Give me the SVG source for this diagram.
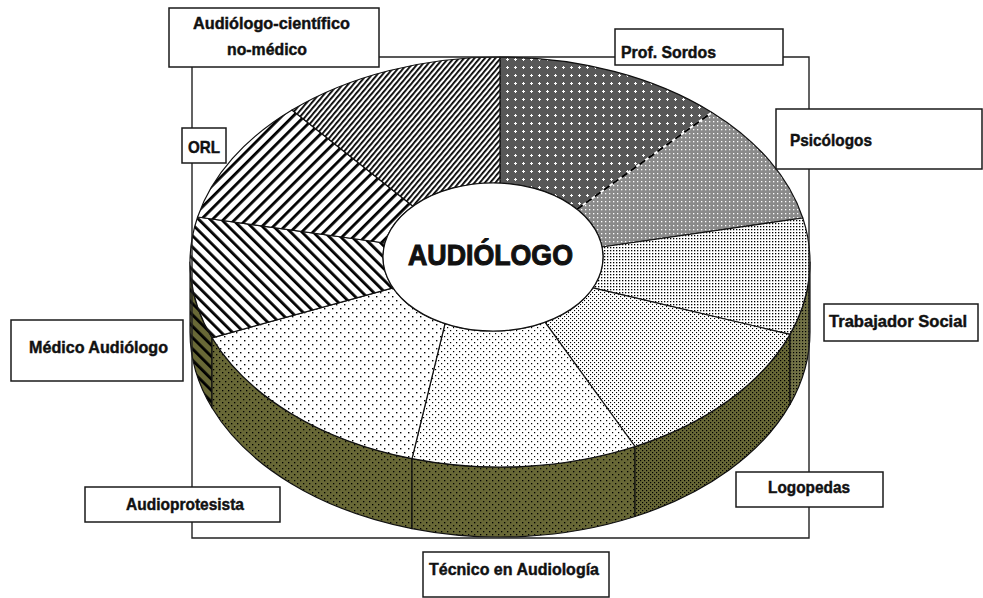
<svg xmlns="http://www.w3.org/2000/svg" width="983" height="598" viewBox="0 0 983 598">
<style>
.box{fill:#fff;stroke:#1a1a1a;stroke-width:1.5}
.lbl{font-family:"Liberation Sans Narrow","Liberation Sans",Arial,sans-serif;font-weight:bold;font-size:17px;fill:#111;stroke:#111;stroke-width:0.45}
.big{font-size:30px;stroke-width:1.1}
.seg{stroke:#111;stroke-width:1.2;stroke-linejoin:round}
.side{stroke:#111;stroke-width:1.2;stroke-linejoin:round}
.conn{fill:none;stroke:#222;stroke-width:1.4}
</style>
<defs>
<pattern id="pFine" patternUnits="userSpaceOnUse" width="4" height="4" patternTransform="rotate(40)">
<rect width="4" height="4" fill="#fff"/><rect width="1.8" height="4" fill="#000"/>
</pattern>
<pattern id="pFwd" patternUnits="userSpaceOnUse" width="8" height="8" patternTransform="rotate(45)">
<rect width="8" height="8" fill="#fff"/><rect width="2.8" height="8" fill="#000"/>
</pattern>
<pattern id="pBack" patternUnits="userSpaceOnUse" width="8" height="8" patternTransform="rotate(-45)">
<rect width="8" height="8" fill="#fff"/><rect width="2.8" height="8" fill="#000"/>
</pattern>
<pattern id="pSordos" patternUnits="userSpaceOnUse" width="8" height="8">
<rect width="8" height="8" fill="#585858"/>
<rect x="3" y="2" width="1" height="3" fill="#fff"/><rect x="2" y="3" width="3" height="1" fill="#fff"/>
</pattern>
<pattern id="pPsico" patternUnits="userSpaceOnUse" width="4" height="4">
<rect width="4" height="4" fill="#8a8a8a"/>
<rect x="1" y="1" width="1.3" height="1.3" fill="#fff"/>
</pattern>
<pattern id="pTS" patternUnits="userSpaceOnUse" width="3" height="3">
<rect width="3" height="3" fill="#fff"/><rect x="1" y="1" width="1.3" height="1.3" fill="#000"/>
</pattern>
<pattern id="pLogo" patternUnits="userSpaceOnUse" width="4" height="4">
<rect width="4" height="4" fill="#fff"/><rect x="0" y="0" width="1.1" height="1.1" fill="#000"/><rect x="2" y="2" width="1.1" height="1.1" fill="#000"/>
</pattern>
<pattern id="pTec" patternUnits="userSpaceOnUse" width="6" height="6">
<rect width="6" height="6" fill="#fff"/><rect x="0" y="0" width="1.2" height="1.2" fill="#000"/><rect x="3" y="3" width="1.2" height="1.2" fill="#000"/>
</pattern>
<pattern id="pAudiop" patternUnits="userSpaceOnUse" width="8" height="8">
<rect width="8" height="8" fill="#fff"/><rect x="0" y="0" width="1.4" height="1.4" fill="#000"/><rect x="4" y="4" width="1.4" height="1.4" fill="#000"/>
</pattern>
<pattern id="sDots6" patternUnits="userSpaceOnUse" width="6" height="6">
<rect width="6" height="6" fill="#686836"/><rect x="0" y="0" width="1.3" height="1.3" fill="#000"/><rect x="3" y="3" width="1.3" height="1.3" fill="#000"/>
</pattern>
<pattern id="sDots4" patternUnits="userSpaceOnUse" width="4" height="4">
<rect width="4" height="4" fill="#686836"/><rect x="0" y="0" width="1.2" height="1.2" fill="#000"/><rect x="2" y="2" width="1.2" height="1.2" fill="#000"/>
</pattern>
<pattern id="sDots3" patternUnits="userSpaceOnUse" width="3" height="3">
<rect width="3" height="3" fill="#727246"/><rect x="1" y="1" width="1.2" height="1.2" fill="#000"/>
</pattern>
<pattern id="sStripe" patternUnits="userSpaceOnUse" width="8" height="8" patternTransform="rotate(-45)">
<rect width="8" height="8" fill="#686836"/><rect width="2.8" height="8" fill="#000"/>
</pattern>
</defs>

<rect width="983" height="598" fill="#fff"/>

<g id="pie">
<path class="side" fill="url(#sStripe)" d="M190,262 A310,205 0 0 0 212,337.8 L212,407.8 A310,205 0 0 1 190,332 Z"/>
<path class="side" fill="url(#sDots6)" d="M212,337.8 A310,205 0 0 0 412,458.6 L412,528.6 A310,205 0 0 1 212,407.8 Z"/>
<path class="side" fill="url(#sDots6)" d="M412,458.6 A310,205 0 0 0 635,446.5 L635,516.5 A310,205 0 0 1 412,528.6 Z"/>
<path class="side" fill="url(#sDots4)" d="M635,446.5 A310,205 0 0 0 790,334.4 L790,404.4 A310,205 0 0 1 635,516.5 Z"/>
<path class="side" fill="url(#sDots3)" d="M790,334.4 A310,205 0 0 0 810,262 L810,332 A310,205 0 0 1 790,404.4 Z"/>
<path id="seg-prof-sordos" class="seg" fill="url(#pSordos)" d="M500,57 A310,205 0 0 1 712,112.4 L577,209.2 A110,74 0 0 0 500,183.2 Z"/>
<path id="seg-psicologos" class="seg" fill="url(#pPsico)" d="M712,112.4 A310,205 0 0 1 802.8,218 L602,247 A110,74 0 0 0 577,209.2 Z"/>
<path id="seg-trabajador" class="seg" fill="url(#pTS)" d="M802.8,218 A310,205 0 0 1 790,334.4 L593,287.8 A110,74 0 0 0 602,247 Z"/>
<path id="seg-logopedas" class="seg" fill="url(#pLogo)" d="M790,334.4 A310,205 0 0 1 635,446.5 L545,322.2 A110,74 0 0 0 593,287.8 Z"/>
<path id="seg-tecnico" class="seg" fill="url(#pTec)" d="M635,446.5 A310,205 0 0 1 412,458.6 L445,323.6 A110,74 0 0 0 545,322.2 Z"/>
<path id="seg-audioprotesista" class="seg" fill="url(#pAudiop)" d="M412,458.6 A310,205 0 0 1 212,337.8 L393,287.8 A110,74 0 0 0 445,323.6 Z"/>
<path id="seg-medico" class="seg" fill="url(#pBack)" d="M212,337.8 A310,205 0 0 1 197.6,217 L385,243 A110,74 0 0 0 393,287.8 Z"/>
<path id="seg-orl" class="seg" fill="url(#pFwd)" d="M197.6,217 A310,205 0 0 1 292,110 L413,206.2 A110,74 0 0 0 385,243 Z"/>
<path id="seg-cientifico" class="seg" fill="url(#pFine)" d="M292,110 A310,205 0 0 1 500,57 L500,183.2 A110,74 0 0 0 413,206.2 Z"/>
<line x1="577" y1="209.2" x2="712" y2="112.4" stroke="#fff" stroke-width="2"/>
<line x1="577" y1="209.2" x2="712" y2="112.4" stroke="#000" stroke-width="2" stroke-dasharray="7,4"/>
<ellipse cx="493" cy="257" rx="110" ry="74" fill="#fff" stroke="#111" stroke-width="1.2"/>
<text class="lbl big" x="408" y="265" textLength="165" lengthAdjust="spacingAndGlyphs">AUDIÓLOGO</text>
</g>

<g id="connectors">
<polyline class="conn" points="379,57 809,57 809,538 192,538 192,57 379,57"/>
</g>

<g id="node-cientifico">
<rect class="box" x="169" y="8" width="210" height="59"/>
<text class="lbl" x="193" y="29" textLength="157" lengthAdjust="spacingAndGlyphs">Audiólogo-científico</text>
<text class="lbl" x="227" y="55" textLength="80" lengthAdjust="spacingAndGlyphs">no-médico</text>
</g>
<g id="node-orl">
<rect class="box" x="182" y="128" width="44" height="35"/>
<text class="lbl" x="188" y="153" textLength="32" lengthAdjust="spacingAndGlyphs">ORL</text>
</g>
<g id="node-prof-sordos">
<rect class="box" x="615" y="29" width="168" height="36"/>
<text class="lbl" x="621" y="57.5" textLength="95" lengthAdjust="spacingAndGlyphs" style="font-size:16px">Prof. Sordos</text>
</g>
<g id="node-psicologos">
<rect class="box" x="776" y="109" width="206" height="60"/>
<text class="lbl" x="790" y="146" textLength="82" lengthAdjust="spacingAndGlyphs">Psicólogos</text>
</g>
<g id="node-trabajador">
<rect class="box" x="824" y="304" width="154" height="37"/>
<text class="lbl" x="829" y="327" textLength="138" lengthAdjust="spacingAndGlyphs">Trabajador Social</text>
</g>
<g id="node-logopedas">
<rect class="box" x="736" y="472" width="147" height="35"/>
<text class="lbl" x="768" y="493" textLength="82" lengthAdjust="spacingAndGlyphs">Logopedas</text>
</g>
<g id="node-tecnico">
<rect class="box" x="423" y="552" width="186" height="45"/>
<text class="lbl" x="429" y="575" textLength="170" lengthAdjust="spacingAndGlyphs">Técnico en Audiología</text>
</g>
<g id="node-audioprotesista">
<rect class="box" x="85" y="487" width="195" height="35"/>
<text class="lbl" x="126" y="510" textLength="118" lengthAdjust="spacingAndGlyphs">Audioprotesista</text>
</g>
<g id="node-medico">
<rect class="box" x="11" y="320" width="172" height="61"/>
<text class="lbl" x="29" y="353" textLength="139" lengthAdjust="spacingAndGlyphs">Médico Audiólogo</text>
</g>
</svg>
